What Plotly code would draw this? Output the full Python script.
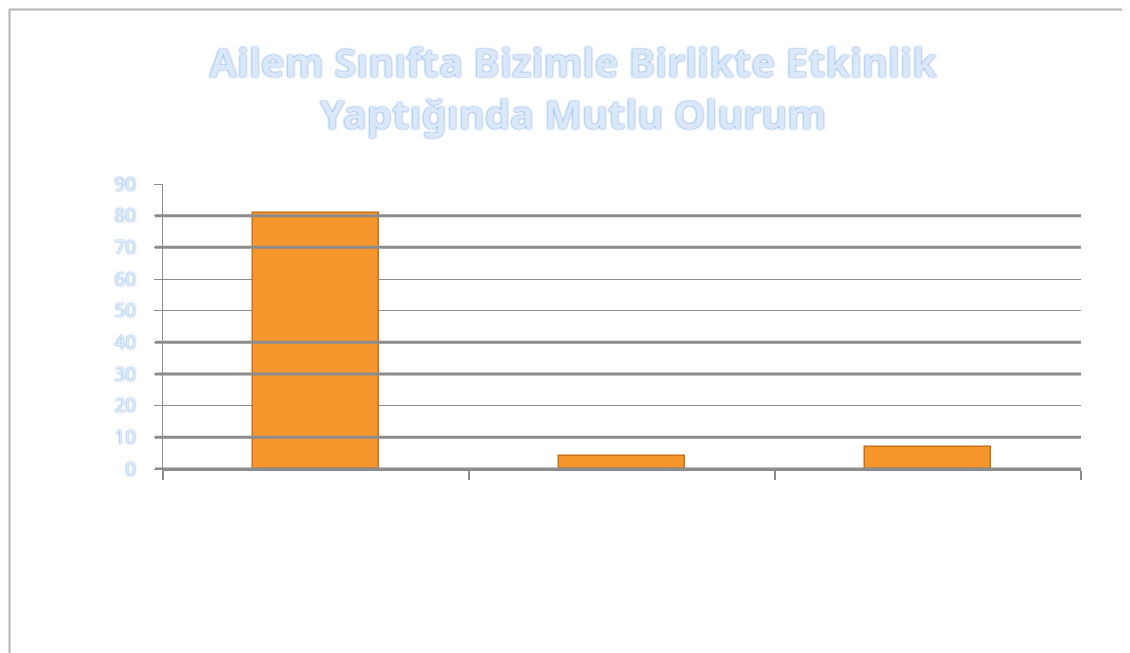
import plotly.graph_objects as go

categories = ['A', 'B', 'C']
values = [81, 4, 7]
y_ticks = [0, 10, 20, 30, 40, 50, 60, 70, 80, 90]
thick_grid = [0, 10, 30, 40, 70, 80]

# plot area in page pixels (page is shifted 8px by the body margin)
PX0, PX1, PY0, PY1 = 163, 1081, 184, 469


def px_x(p):
    return (p - PX0) / (PX1 - PX0)


def px_y(p):
    return (PY1 - p) / (PY1 - PY0)


fig = go.Figure()

fig.add_trace(go.Bar(
    x=[0, 1, 2],
    y=values,
    width=0.41,
    marker=dict(
        color='#f7962c',
        line=dict(color='#c8701a', width=1.5),
    ),
    hovertext=categories,
    showlegend=False,
))

# heavier grid lines like the original rendering
for v in thick_grid:
    fig.add_shape(
        type='line', xref='paper', yref='y',
        x0=px_x(155), x1=1, y0=v, y1=v,
        line=dict(color='#8c8c8c', width=3),
        layer='above',
    )

# outer chart border (top and left only are visible)
fig.add_shape(type='line', xref='paper', yref='paper',
              x0=px_x(9), x1=px_x(1140), y0=px_y(9.5), y1=px_y(9.5),
              line=dict(color='#b4b4b4', width=2))
fig.add_shape(type='line', xref='paper', yref='paper',
              x0=px_x(9.5), x1=px_x(9.5), y0=px_y(9), y1=px_y(670),
              line=dict(color='#b4b4b4', width=2))

label_font = dict(family='Noto Sans', size=19, color='#e6effc',
                  shadow='0px 0px 1.5px #3d7fd6')

fig.update_layout(
    width=1130,
    height=653,
    paper_bgcolor='white',
    plot_bgcolor='white',
    margin=dict(l=155, r=57, t=176, b=192),
    bargap=0,
    title=dict(
        text='Ailem Sınıfta Bizimle Birlikte Etkinlik<br>Yaptığında Mutlu Olurum',
        font=dict(family='Noto Sans', size=40, color='#dbe8fa',
                  weight='bold', shadow='0px 0px 2px #3d7fd6'),
        x=0.5,
        xanchor='center',
        yref='container',
        y=1 - 69 / 653,
        yanchor='middle',
    ),
    xaxis=dict(
        range=[-0.5, 2.5],
        tickvals=[-0.5, 0.5, 1.5, 2.5],
        ticktext=['', '', '', ''],
        ticks='outside',
        ticklen=9,
        tickwidth=1.5,
        tickcolor='#8c8c8c',
        showline=True,
        linecolor='#8c8c8c',
        linewidth=2,
        showgrid=False,
        zeroline=False,
        fixedrange=True,
    ),
    yaxis=dict(
        range=[0, 90],
        tickvals=y_ticks,
        ticks='outside',
        ticklen=8,
        tickcolor='#8c8c8c',
        showline=True,
        linecolor='#8c8c8c',
        linewidth=1,
        showgrid=True,
        gridcolor='#8c8c8c',
        gridwidth=1,
        zeroline=False,
        tickfont=label_font,
        ticklabelstandoff=14,
    ),
)

fig.write_html("out.html")
